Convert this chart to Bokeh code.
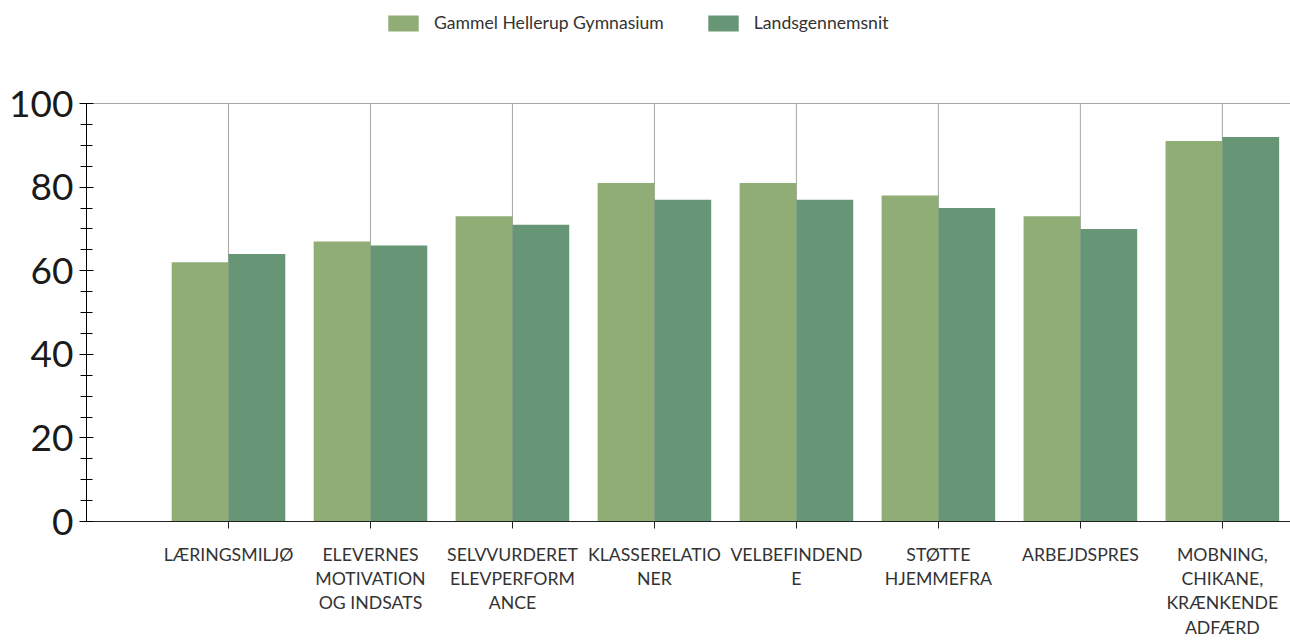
from bokeh.plotting import figure
from bokeh.models import (Range1d, FixedTicker, SingleIntervalTicker, Legend, LegendItem,
                          ColumnDataSource)
from bokeh.embed import file_html
from bokeh.resources import INLINE
import numpy as np

categories = ["LÆRINGSMILJØ", "ELEVERNES\nMOTIVATION\nOG INDSATS", "SELVVURDERET\nELEVPERFORM\nANCE",
              "KLASSERELATIO\nNER", "VELBEFINDEND\nE", "STØTTE\nHJEMMEFRA", "ARBEJDSPRES",
              "MOBNING,\nCHIKANE,\nKRÆNKENDE\nADFÆRD"]
series_names = ["Gammel Hellerup Gymnasium", "Landsgennemsnit"]
school = [62, 67, 73, 81, 81, 78, 73, 91]
national = [64, 66, 71, 77, 77, 75, 70, 92]
y_max = 100

FONT = "Lato"
LIGHT = "#8FAD74"
DARK = "#679677"
GRID = "#a6a6a6"

xs = np.arange(1, len(categories) + 1)

# frame spans from the top of the page down to the x axis; value 100 sits 103px below top
FRAME_H = 521
y_top = y_max * FRAME_H / (FRAME_H - 103)

p = figure(width=1290, height=642, output_backend="svg", toolbar_location=None,
           x_range=Range1d(0, 8.48), y_range=Range1d(0, y_top),
           min_border_left=86, min_border_top=0, min_border_right=0, min_border_bottom=121)
p.outline_line_color = None
p.background_fill_color = "white"
p.border_fill_color = "white"
p.xgrid.visible = False

# vertical category lines, limited to the value range 0..100
p.segment(x0=xs, y0=np.zeros(len(xs)), x1=xs, y1=np.full(len(xs), y_max),
          line_color=GRID, line_width=1, level="underlay")

src1 = ColumnDataSource(dict(x=xs - 0.2, top=school))
src2 = ColumnDataSource(dict(x=xs + 0.2, top=national))
r1 = p.vbar(x="x", top="top", width=0.4, source=src1, fill_color=LIGHT, line_color=None)
r2 = p.vbar(x="x", top="top", width=0.4, source=src2, fill_color=DARK, line_color=None)

p.ygrid.ticker = FixedTicker(ticks=[y_max])
p.ygrid.grid_line_color = GRID
p.ygrid.grid_line_width = 1

# y axis
ya = p.yaxis[0]
ya.ticker = SingleIntervalTicker(interval=20, num_minor_ticks=4)
ya.bounds = (0, y_max)
ya.axis_line_color = "black"
ya.major_tick_line_color = "black"
ya.minor_tick_line_color = "black"
ya.major_tick_in = 7
ya.major_tick_out = 7
ya.minor_tick_in = 6
ya.minor_tick_out = 6
ya.major_label_text_font = FONT
ya.major_label_text_font_size = "37px"
ya.major_label_text_color = "#1a1a1a"
ya.major_label_standoff = 6

# x axis
xa = p.xaxis[0]
xa.ticker = FixedTicker(ticks=list(xs))
xa.major_label_overrides = {int(x): c for x, c in zip(xs, categories)}
xa.axis_line_color = "#222222"
xa.major_tick_line_color = "#222222"
xa.major_tick_in = 0
xa.major_tick_out = 7
xa.minor_tick_line_color = None
xa.major_label_text_font = FONT
xa.major_label_text_font_size = "17.7px"
xa.major_label_text_color = "#333333"
xa.major_label_text_line_height = 1.16
xa.major_label_standoff = 15

legend = Legend(items=[LegendItem(label=series_names[0], renderers=[r1]),
                       LegendItem(label=series_names[1], renderers=[r2])],
                orientation="horizontal", location=(298, 488),
                glyph_width=38, glyph_height=20, label_standoff=12, spacing=40,
                label_text_font=FONT, label_text_font_size="17.6px", label_text_color="#333333",
                padding=0, margin=0, border_line_color=None, background_fill_alpha=0)
p.add_layout(legend, "center")

open("out.html", "w").write(file_html(p, INLINE))
